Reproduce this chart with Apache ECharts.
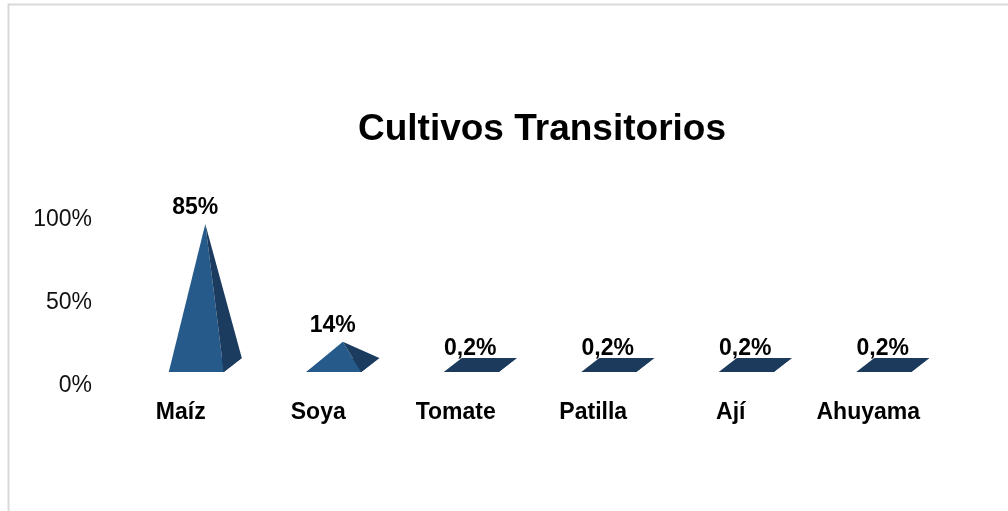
<!DOCTYPE html>
<html>
<head>
<meta charset="utf-8">
<title>Cultivos Transitorios</title>
<script src="https://cdn.jsdelivr.net/npm/echarts@6/dist/echarts.min.js"></script>
<style>
  html, body { margin: 0; padding: 0; background: #ffffff; }
  #chart { width: 1008px; height: 511px; }
</style>
</head>
<body>
<div id="chart"></div>
<script>
// Crop shares (percent of planted area)
const categories = ['Maíz', 'Soya', 'Tomate', 'Patilla', 'Ají', 'Ahuyama'];
const shares = [85, 14, 0.2, 0.2, 0.2, 0.2];
const yTicks = [0, 50, 100];

const FONT = '"Liberation Sans", Arial, Helvetica, sans-serif';
const FRONT = '#255a8b';
const SIDE = '#1b3c5f';
const FLOOR = '#1b3a5c';

function fmtPct(v) {
  return String(v).replace('.', ',') + '%';
}

// Draws a 3D pyramid standing on a floor parallelogram
function renderPyramid(params, api) {
  const idx = api.value(0);
  const val = api.value(1);
  const base = api.coord([idx, 0]);
  const top = api.coord([idx, val]);
  const band = api.size([1, 0])[0];
  const cx = base[0];
  const y0 = base[1];

  const w = band * 0.4;        // front edge width
  const dx = band * 0.131;     // depth offset (x)
  const dy = 14;               // depth offset (y)
  const lift = 14;             // floor lift above axis zero

  const fl = [cx - band * 0.087, y0 - lift];
  const fr = [fl[0] + w, fl[1]];
  const br = [fr[0] + dx, fr[1] - dy];
  const bl = [fl[0] + dx, fl[1] - dy];
  const apex = [fl[0] + w / 2 + dx / 2, top[1] - lift - dy / 2];

  const floor = { type: 'polygon', shape: { points: [fl, fr, br, bl] }, style: { fill: FLOOR } };
  const faces = [
    { type: 'polygon', shape: { points: [fl, fr, apex] }, style: { fill: FRONT } },
    { type: 'polygon', shape: { points: [fr, br, apex] }, style: { fill: SIDE } }
  ];
  // A nearly flat pyramid is seen from above: only its dark base shows
  const flat = apex[1] > br[1] - 1;
  const shapes = flat ? faces.concat([floor]) : [floor].concat(faces);

  shapes.push({
    type: 'text',
    style: {
      x: apex[0] - band * 0.073,
      y: apex[1] - 16,
      text: fmtPct(val),
      fill: '#000000',
      font: 'bold 23px ' + FONT,
      align: 'center',
      verticalAlign: 'middle'
    }
  });

  return { type: 'group', children: shapes };
}

const chart = echarts.init(document.getElementById('chart'), null, { renderer: 'canvas' });

chart.setOption({
  animation: false,
  backgroundColor: '#ffffff',
  title: {
    text: 'Cultivos Transitorios',
    left: 537,
    top: 106,
    textAlign: 'center',
    textStyle: { fontFamily: FONT, fontSize: 37, fontWeight: 'bold', color: '#000000' }
  },
  graphic: [
    {
      type: 'rect',
      shape: { x: 8.5, y: 4.5, width: 1100, height: 600 },
      style: { fill: 'none', stroke: '#d9d9d9', lineWidth: 2 },
      silent: true
    }
  ],
  grid: { left: 112, top: 220, width: 825, height: 166, containLabel: false },
  xAxis: {
    type: 'category',
    data: categories,
    axisLine: { show: false },
    axisTick: { show: false },
    axisLabel: {
      margin: 15,
      fontFamily: FONT,
      fontSize: 23,
      fontWeight: 'bold',
      color: '#000000'
    },
    splitLine: { show: false }
  },
  yAxis: {
    type: 'value',
    min: yTicks[0],
    max: yTicks[yTicks.length - 1],
    interval: yTicks[1] - yTicks[0],
    axisLine: { show: false },
    axisTick: { show: false },
    splitLine: { show: false },
    axisLabel: {
      margin: 20,
      fontFamily: FONT,
      fontSize: 23,
      color: '#111111',
      formatter: v => v + '%'
    }
  },
  series: [
    {
      type: 'custom',
      renderItem: renderPyramid,
      data: shares.map((v, i) => [i, v]),
      encode: { x: 0, y: 1 },
      clip: false
    }
  ]
});
</script>
</body>
</html>
